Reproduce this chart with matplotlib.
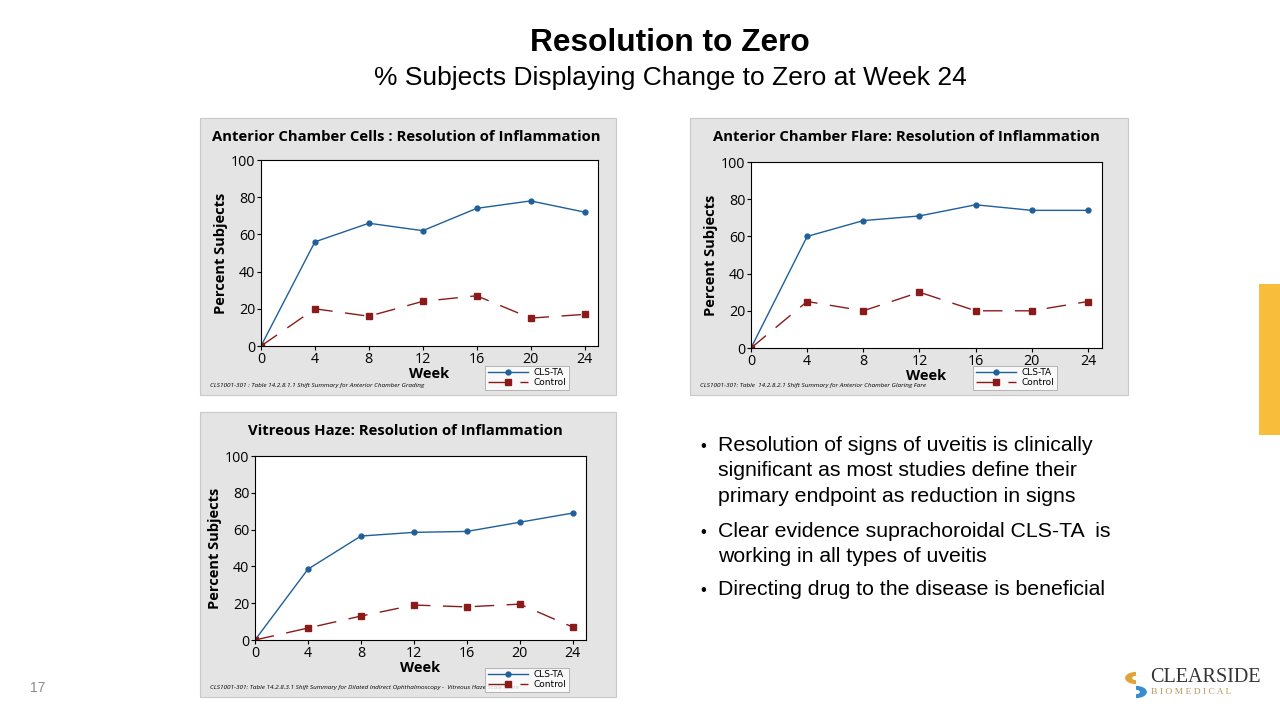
import matplotlib
matplotlib.use("Agg")
import matplotlib.pyplot as plt
from matplotlib.patches import Rectangle, Wedge

# data
weeks = [0, 4, 8, 12, 16, 20, 24]

cells_cls = [0, 56, 66, 62, 74, 78, 72]
cells_ctrl = [0, 20, 16, 24, 27, 15, 17]

flare_cls = [0, 60, 68.5, 71, 77, 74, 74]
flare_ctrl = [0, 25, 20, 30, 20, 20, 25]

haze_cls = [0, 38.5, 56.5, 58.5, 59, 64, 69]
haze_ctrl = [0, 6.5, 13, 19, 18, 19.5, 7]

panel_titles = [
    "Anterior Chamber Cells : Resolution of Inflammation",
    "Anterior Chamber Flare: Resolution of Inflammation",
    "Vitreous Haze: Resolution of Inflammation",
]
footnotes = [
    "CLS1001-301 : Table 14.2.8.1.1 Shift Summary for Anterior Chamber Grading",
    "CLS1001-301: Table  14.2.8.2.1 Shift Summary for Anterior Chamber Glaring Fare",
    "CLS1001-301: Table 14.2.8.3.1 Shift Summary for Dilated Indirect Ophthalmoscopy -  Vitreous Haze Scale Score",
]
bullets = [
    "Resolution of signs of uveitis is clinically\nsignificant as most studies define their\nprimary endpoint as reduction in signs",
    "Clear evidence suprachoroidal CLS-TA  is\nworking in all types of uveitis",
    "Directing drug to the disease is beneficial",
]

W, H = 1280, 720
BLUE = "#1f5f9a"
RED = "#8b1a1a"
GRAY = "#e4e4e4"
SANS = "Liberation Sans"
CAL = "Open Sans"

fig = plt.figure(figsize=(12.8, 7.2), dpi=100)
fig.patch.set_facecolor("white")


def fx(px):
    return px / W


def fy(py):
    return 1 - py / H


def box(x0, y0, x1, y1, **kw):
    r = Rectangle((fx(x0), fy(y1)), fx(x1 - x0), (y1 - y0) / H,
                  transform=fig.transFigure, **kw)
    fig.add_artist(r)


# title
fig.text(fx(670), fy(43), "Resolution to Zero", ha="center", va="center",
         fontsize=22.8, fontweight="bold", family=SANS)
fig.text(fx(670), fy(78), "% Subjects Displaying Change to Zero at Week 24", ha="center",
         va="center", fontsize=19, family=SANS)

# panels: (gray box), (axes box), data
panels = [
    ((200, 118, 616, 395), (261, 160, 598, 346), cells_cls, cells_ctrl),
    ((690, 118, 1128, 395), (751, 162, 1102, 348), flare_cls, flare_ctrl),
    ((200, 412, 616, 697), (255, 456, 586, 640), haze_cls, haze_ctrl),
]
title_cx = [406, 906, 405]
legend_x = [485, 973, 485]

for i, (gb, ab, cls, ctrl) in enumerate(panels):
    box(*gb, facecolor=GRAY, edgecolor="#c8c8c8", linewidth=0.8, zorder=-5)
    x0, y0, x1, y1 = ab
    ax = fig.add_axes([fx(x0), fy(y1), fx(x1 - x0), (y1 - y0) / H])
    ax.set_zorder(2)
    ax.set_facecolor("white")
    l1, = ax.plot(weeks, cls, color=BLUE, lw=1.0, marker="o", ms=3.5, label="CLS-TA")
    l2, = ax.plot(weeks, ctrl, color=RED, lw=1.0, marker="s", ms=4, label="Control",
                  dashes=(14, 9))
    ax.set_xlim(0, 25)
    ax.set_ylim(0, 100)
    ax.set_xticks(weeks)
    ax.set_yticks([0, 20, 40, 60, 80, 100])
    ax.tick_params(labelsize=10.3, length=3, width=0.8, pad=1)
    for lab in ax.get_xticklabels() + ax.get_yticklabels():
        lab.set_family(CAL)
    for s in ax.spines.values():
        s.set_linewidth(0.8)
    ax.set_xlabel("Week", fontsize=10.5, fontweight="bold", family=CAL, labelpad=0)
    ax.set_ylabel("Percent Subjects", fontsize=10.5, fontweight="bold", family=CAL, labelpad=2)

    gx0, gy0, gx1, gy1 = gb
    fig.text(fx(title_cx[i]), fy(gy0 + 19), panel_titles[i],
             ha="center", va="center", fontsize=10.7, fontweight="bold", family=CAL)
    fig.text(fx(gx0 + 10), fy(gy1 - 10), footnotes[i], ha="left", va="center",
             fontsize=4.6, style="italic", family=CAL)
    leg = fig.legend(handles=[l1, l2], loc="lower left",
                     bbox_to_anchor=(fx(legend_x[i]), fy(gy1 - 5)),
                     bbox_transform=fig.transFigure, fontsize=6.5, frameon=True,
                     fancybox=False, borderpad=0.3, labelspacing=0.1, handlelength=4.5,
                     handletextpad=0.6, borderaxespad=0)
    leg.set_zorder(3)
    leg.get_frame().set_edgecolor("#999999")
    leg.get_frame().set_linewidth(0.6)

# bullet text
ys = [448, 534, 592]
for y, t in zip(ys, bullets):
    fig.text(fx(700), fy(y - 2), "\u2022", ha="left", va="center", fontsize=12, family=SANS)
    fig.text(fx(718), fy(y - 12), t, ha="left", va="top", fontsize=15.3, family=SANS,
             linespacing=1.42)

# yellow side bar
box(1259, 284, 1280, 435, facecolor="#f9bd3c", edgecolor="none")

# page number
fig.text(fx(38), fy(688), "17", ha="center", va="center", fontsize=10, color="#8a8a8a",
         family=SANS)

# logo
cx, cy = 1136, 685
fig.add_artist(Wedge((fx(cx), fy(cy - 7)), 0.0085, 90, 270, width=0.0055,
                     transform=fig.transFigure, facecolor="#e0a43a", edgecolor="none"))
fig.add_artist(Wedge((fx(cx), fy(cy + 7)), 0.0085, -90, 90, width=0.0055,
                     transform=fig.transFigure, facecolor="#3a8ccc", edgecolor="none"))
fig.text(fx(1150), fy(677), "CLEARSIDE", ha="left", va="center", fontsize=14.5,
         family="Liberation Serif", color="#333333")
fig.text(fx(1151), fy(692), "B I O M E D I C A L", ha="left", va="center", fontsize=6.8,
         family="Liberation Serif", color="#b9995a")

fig.savefig("out.png", dpi=100)
